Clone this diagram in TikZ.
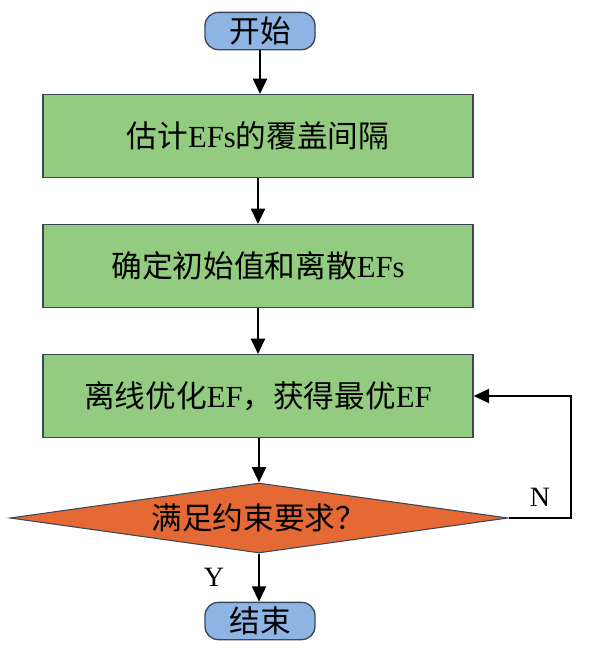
\documentclass[tikz,border=0pt]{standalone}
\usepackage{fontspec}
\setmainfont{Liberation Serif}
\newfontfamily\cjk{Noto Sans CJK SC}
\usetikzlibrary{shapes.geometric,arrows.meta}
\definecolor{pillblue}{HTML}{8DB4E2}
\definecolor{boxgreen}{HTML}{93CC80}
\definecolor{diaorange}{HTML}{E46934}
\definecolor{edgegray}{HTML}{3B4656}
\begin{document}
\begin{tikzpicture}[x=0.75pt,y=-0.75pt,
  every node/.style={font=\fontsize{23}{27}\selectfont},
  pill/.style={draw=edgegray,line width=1pt,fill=pillblue,rounded corners=10pt,minimum width=82.5pt,minimum height=28pt,inner sep=0pt},
  procbox/.style={draw=edgegray,line width=1pt,fill=boxgreen,minimum width=322.5pt,minimum height=62pt,inner sep=0pt},
  decide/.style={diamond,draw=edgegray,line width=0.8pt,fill=diaorange,minimum width=373.5pt,minimum height=52.5pt,inner sep=0pt,aspect=7},
  flow/.style={line width=1.5pt,-{Triangle[width=10.5pt,length=11.5pt]}},
  lbl/.style={font=\fontsize{21}{25}\selectfont}]
\useasboundingbox (0,0) rectangle (591,658);
\node[pill] (start) at (260,31) {\cjk 开始};
\node[procbox] (b1) at (258,136) {{\cjk 估计}EFs{\cjk 的覆盖间隔}};
\node[procbox] (b2) at (258,266) {{\cjk 确定初始值和离散}EFs};
\node[procbox] (b3) at (258,396) {{\cjk 离线优化}EF{\cjk ，获得最优}EF};
\node[decide] (d) at (259,518) {{\cjk 满足约束要求？}};
\node[pill] (end) at (260,621) {\cjk 结束};
\coordinate (c1) at (571,518);
\coordinate (c2) at (571,396);
\draw[flow] (start) -- (start |- b1.north);
\draw[flow] (b1) -- (b2);
\draw[flow] (b2) -- (b3);
\draw[flow] (b3.south -| d.north) -- (d.north);
\draw[flow] (d.south) -- (end.north -| d.south);
\draw[flow] (d.east) -- (c1) -- (c2) -- (b3.east);
\node[lbl] (nl) at (540,497) {N};
\node[lbl] (yl) at (214,577) {Y};
\end{tikzpicture}
\end{document}
